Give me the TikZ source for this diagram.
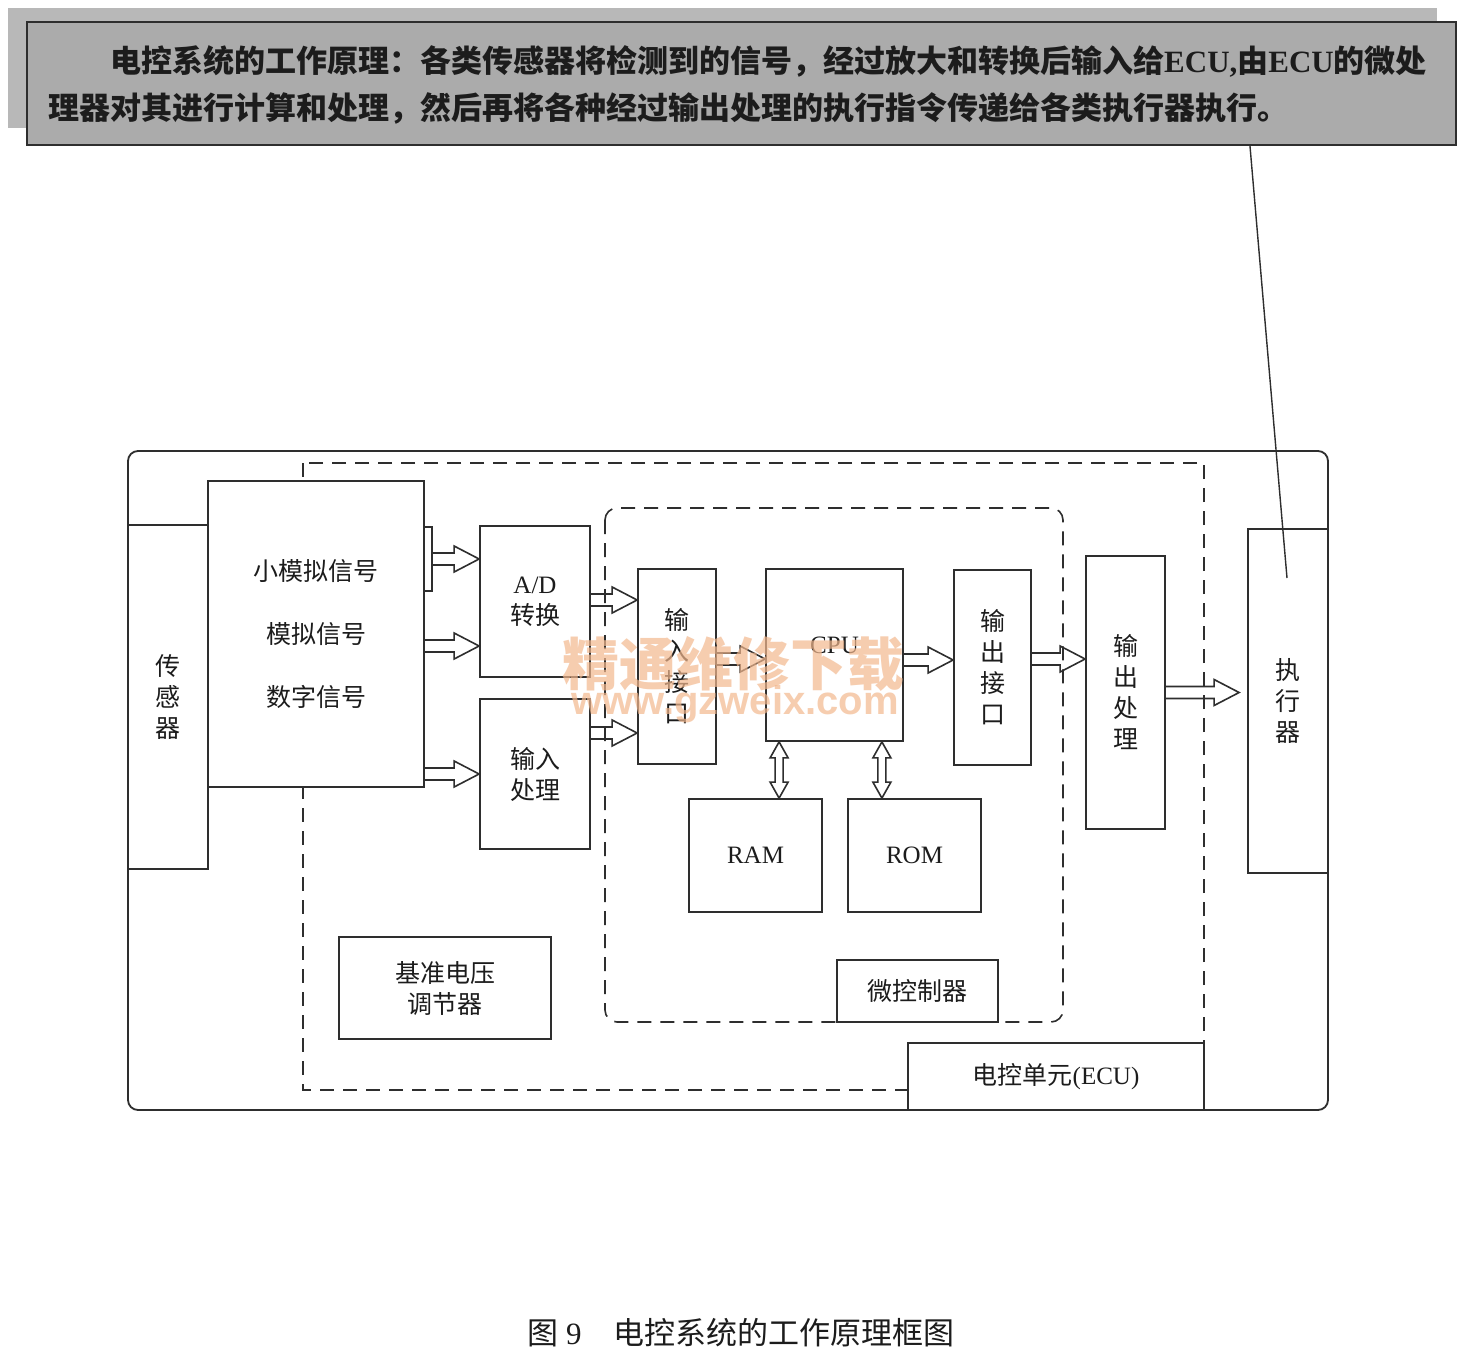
\documentclass[tikz,border=0pt]{standalone}
\usepackage{fontspec}
\setmainfont{Liberation Serif}
\newfontfamily\cjk{Noto Sans CJK SC}
\newfontfamily\lat{Liberation Serif}
\newfontfamily\wmsans{Liberation Sans}
\usetikzlibrary{calc}
\XeTeXlinebreaklocale "zh"
\XeTeXlinebreakskip=0pt plus 1pt
\definecolor{linec}{HTML}{2E2E2E}
\definecolor{textc}{HTML}{1C1C1C}
\definecolor{calloutfill}{HTML}{ABABAB}
\definecolor{shadowfill}{HTML}{B8B8B8}
\definecolor{wmc}{HTML}{F3B88E}
\tikzset{
  blk/.style={draw=linec, fill=white, line width=1.8pt, inner sep=0pt, align=center,
    text=textc, font=\cjk\fontsize{25}{31}\selectfont},
  hollow/.style={draw=linec, line width=1.6pt, line join=miter},
  dashframe/.style={draw=linec, line width=1.6pt, dash pattern=on 14pt off 9pt},
  calltext/.style={inner sep=0pt, text=textc, font=\cjk\bfseries\fontsize{31}{47}\selectfont},
  wmark/.style={text=wmc, opacity=0.7, inner sep=0pt},
}
\newcommand{\bx}[7][]{\node[blk,#1,minimum width={(#5-#3)*1pt},minimum height={(#6-#4)*1pt}] (#2) at ({(#3+#5)/2},{(#4+#6)/2}) {#7};}
\newcommand{\harr}[2]{\draw[hollow] let \p1=(#1), \p2=(#2) in
  (\x1,\y1+6pt) -- (\x2-25pt,\y1+6pt) -- (\x2-25pt,\y1+13pt) -- (\x2,\y1)
  -- (\x2-25pt,\y1-13pt) -- (\x2-25pt,\y1-6pt) -- (\x1,\y1-6pt);}
\newcommand{\varr}[2]{\draw[hollow] let \p1=(#1), \p2=(#2) in
  (\x1,\y1) -- (\x1+9pt,\y1-16pt) -- (\x1+4pt,\y1-16pt) -- (\x1+4pt,\y2+16pt)
  -- (\x1+9pt,\y2+16pt) -- (\x1,\y2) -- (\x1-9pt,\y2+16pt) -- (\x1-4pt,\y2+16pt)
  -- (\x1-4pt,\y1-16pt) -- (\x1-9pt,\y1-16pt) -- cycle;}
\begin{document}
\begin{tikzpicture}[x=1pt,y=-1pt]
\useasboundingbox[fill=white] (0,0) rectangle (1470,1357);
% callout
\fill[shadowfill] (8,8) rectangle (1437,128);
\node[draw=linec, fill=calloutfill, line width=2.4pt, minimum width=1429pt, minimum height=123pt, inner sep=0pt] (callout) at (741.5,83.5) {};
\node[calltext, anchor=base west] (call1) at (110,72) {\hbox to 1327pt{电控系统的工作原理：各类传感器将检测到的信号，经过放大和转换后输入给{\lat\bfseries ECU,}由{\lat\bfseries ECU}的微处}};
\node[calltext, anchor=base west] (call2) at (48,119) {\hbox to 1262pt{理器对其进行计算和处理，然后再将各种经过输出处理的执行指令传递给各类执行器执行。}};
% frames
\draw[line width=1.8pt, draw=linec, rounded corners=10pt] (128,451) rectangle (1328,1110);
\draw[dashframe] (303,463) rectangle (1204,1090);
\draw[dashframe, rounded corners=12pt] (605,508) rectangle (1063,1022);
% boxes
\bx{sensor}{128}{525}{208}{869}{传\\感\\器}
\bx{sig}{208}{481}{424}{787}{小模拟信号\\[32pt]模拟信号\\[32pt]数字信号}
\bx[fill=none]{brk}{424}{527}{432}{591}{}
\bx{ad}{480}{526}{590}{677}{{\lat A/D}\\转换}
\bx{inproc}{480}{699}{590}{849}{输入\\处理}
\bx{inport}{638}{569}{716}{764}{输\\入\\接\\口}
\bx{cpu}{766}{569}{903}{741}{\raisebox{2pt}[0pt][0pt]{\lat CPU}}
\bx{outport}{954}{570}{1031}{765}{输\\出\\接\\口}
\bx{outproc}{1086}{556}{1165}{829}{输\\出\\处\\理}
\bx{act}{1248}{529}{1328}{873}{执\\行\\器}
\bx{ram}{689}{799}{822}{912}{{\lat RAM}}
\bx{rom}{848}{799}{981}{912}{{\lat ROM}}
\bx{mcu}{837}{960}{998}{1022}{微控制器}
\bx{vref}{339}{937}{551}{1039}{基准电压\\调节器}
\bx{ecu}{908}{1043}{1204}{1110}{电控单元{\lat (ECU)}}
% arrows
\coordinate (actin) at ($(act.west |- outproc.east)+(-8,0)$);
\harr{brk.east}{ad.west |- brk.east}
\harr{sig.east |- 0,646}{ad.west |- 0,646}
\harr{sig.east |- 0,774}{inproc.west |- 0,774}
\harr{ad.east |- 0,600}{inport.west |- 0,600}
\harr{inproc.east |- 0,733}{inport.west |- 0,733}
\harr{inport.east |- 0,659}{cpu.west |- 0,659}
\harr{cpu.east |- 0,660}{outport.west |- 0,660}
\harr{outport.east |- 0,659}{outproc.west |- 0,659}
\harr{outproc.east}{actin}
\varr{$(cpu.south west)+(14,0)$}{ram.north}
\varr{$(cpu.south east)+(-22,0)$}{rom.north}
% pointer
\coordinate (ptr) at (1287,578);
\draw[linec, line width=1.4pt] (callout.south -| 1250,0) -- (ptr);
% caption
\node[anchor=west, text=textc, font=\cjk\fontsize{31}{31}\selectfont, inner sep=0pt] (caption) at (527,1333) {图\hspace{8pt}{\lat 9}\hspace{32pt}电控系统的工作原理框图};
% watermark
\node[wmark, font=\cjk\bfseries\fontsize{57}{57}\selectfont] (wm1) at (733,664) {精通维修下载};
\node[wmark, font=\wmsans\bfseries\fontsize{40}{40}\selectfont] (wm2) at (735,704) {www.gzweix.com};
\end{tikzpicture}
\end{document}
